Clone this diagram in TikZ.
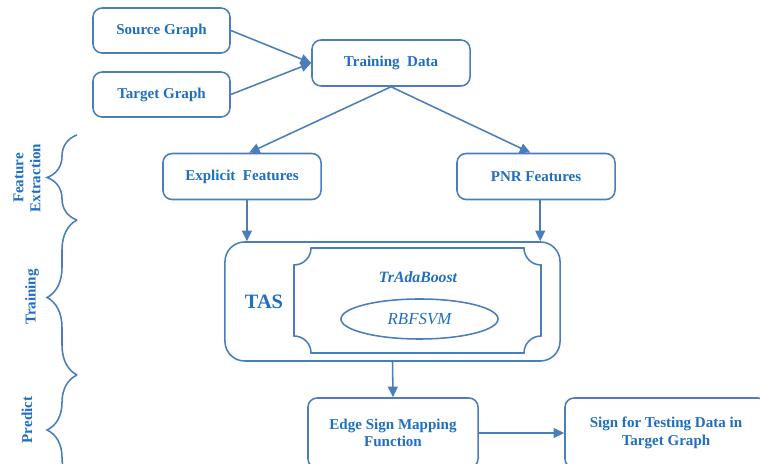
\documentclass[tikz,border=0pt]{standalone}
\usepackage{fontspec}
\setmainfont{Liberation Serif}
\usetikzlibrary{arrows.meta,shapes.geometric,decorations.pathreplacing}
\definecolor{lnblue}{RGB}{74,126,187}
\definecolor{txblue}{RGB}{30,110,194}

\begin{document}
\begin{tikzpicture}[x=0.025cm,y=0.025cm,box/.style={draw=lnblue,line width=1.1pt,rounded corners=6.5pt,minimum width=3.95cm,minimum height=1.15cm,align=center,text=txblue,font=\fontsize{10.7}{12.5}\selectfont\bfseries},a/.style={-{Triangle[length=7.5pt,width=7pt]},draw=lnblue,line width=1.1pt},brc/.style={draw=lnblue,line width=1.1pt,decorate,decoration={brace,amplitude=0.75cm}},lbl/.style={text=txblue,rotate=90,align=center,font=\fontsize{10.7}{12}\selectfont\bfseries}]
\useasboundingbox (0,0) rectangle (760,464);
\node[box,minimum width=3.425cm,minimum height=1.125cm] (src) at (161.5,433.5) {Source Graph};
\node[box,minimum width=3.425cm,minimum height=1.125cm] (tgt) at (161.5,369.5) {Target Graph};
\node[box] (td) at (391,401) {Training\ \ Data};
\node[box] (ef) at (242,287.5) {Explicit\ \ Features};
\node[box] (pnr) at (536,287.5) {PNR Features};
\node[box,rounded corners=14pt,minimum width=8.375cm,minimum height=2.975cm] (tas) at (392.5,162.5) {};
\node[text=txblue,font=\fontsize{14.5}{16}\selectfont\bfseries] (tasl) at (264,162) {TAS};
% plaque with hollow corners
\draw[lnblue,line width=1.1pt] (311,216) -- (524,216) arc (180:270:17) -- (541,128) arc (90:180:17) -- (311,111) arc (0:90:17) -- (294,199) arc (270:360:17) -- cycle;
\node[text=txblue,font=\fontsize{11.2}{13}\selectfont\bfseries\itshape] (tra) at (418,187) {TrAdaBoost};
\node[ellipse,draw=lnblue,line width=1.1pt,minimum width=3.925cm,minimum height=1cm,text=txblue,font=\fontsize{12}{14}\selectfont\itshape] (svm) at (419.5,145) {RBFSVM};
\node[box,minimum width=4.25cm,minimum height=1.75cm] (esm) at (393,31) {Edge Sign Mapping\\Function};
\node[box,minimum width=5.05cm,minimum height=1.75cm] (out) at (666,31) {Sign for Testing Data in\\Target Graph};
\draw[a] (src.east) -- (td.west); \draw[a] (tgt.east) -- (td.west);
\draw[a] (td.south) -- ([xshift=5pt]ef.north); \draw[a] (td.south) -- ([xshift=-4pt]pnr.north);
\draw[a] ([xshift=3.5pt]ef.south) -- ([xshift=3.5pt]ef.south |- tas.north);
\draw[a] ([xshift=3pt]pnr.south) -- ([xshift=3pt]pnr.south |- tas.north);
\draw[a] (tas.south) -- (esm.north);
\draw[a] (esm.east) -- (out.west);
% stage braces
\draw[brc] (77,244) -- (77,329);
\draw[brc] (77,89) -- (77,244);
\draw[brc] (77,-21) -- (77,89);
\node[lbl] (fe) at (27,286) {Feature\\Extraction};
\node[lbl] (trn) at (32,167) {Training};
\node[lbl] (prd) at (27,44) {Predict};
\end{tikzpicture}
\end{document}
